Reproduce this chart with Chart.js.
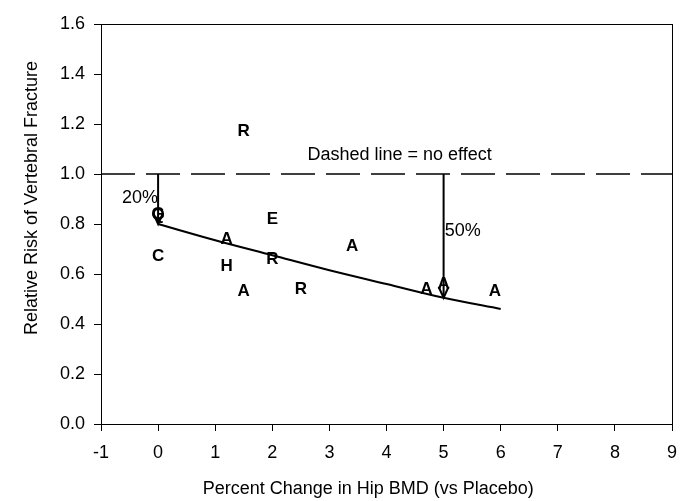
<!DOCTYPE html>
<html lang="en">
<head>
    <meta charset="UTF-8">
    <title>Hip BMD vs Vertebral Fracture Risk</title>
    <script src="https://cdn.jsdelivr.net/npm/chart.js"></script>
    <style>
        body { margin: 0; background: #fff; }
    </style>
</head>
<body>
    <canvas id="bmdChart" width="681" height="501"></canvas>
    <script>
        // Trial letters (drug codes)
        const trialLabels = ['R', 'G', 'Q', 'C', 'A', 'E', 'H', 'R', 'A', 'R', 'A', 'A', 'A', 'A'];
        const trialBmd    = [1.5, 0.0, 0.0, 0.0, 1.2, 2.0, 1.2, 2.0, 1.5, 2.5, 3.4, 4.7, 5.0, 5.9];
        const trialRisk   = [1.17, 0.84, 0.835, 0.67, 0.74, 0.82, 0.63, 0.66, 0.53, 0.54, 0.71, 0.54, 0.56, 0.53];

        // Fitted curve
        const curveBmd  = [0, 1, 2, 3, 4, 5, 6];
        const curveRisk = [0.80, 0.735, 0.675, 0.615, 0.56, 0.505, 0.46];

        // Reference line and arrows
        const noEffectRisk = 1.0;
        const arrowBmd = [0, 5];
        const arrowRisk = [0.80, 0.505];

        const xTicks = [-1, 0, 1, 2, 3, 4, 5, 6, 7, 8, 9];
        const yTicks = [0, 0.2, 0.4, 0.6, 0.8, 1.0, 1.2, 1.4, 1.6];

        const xTitle = 'Percent Change in Hip BMD (vs Placebo)';
        const yTitle = 'Relative Risk of Vertebral Fracture';

        const FONT = "'Liberation Sans', Arial, sans-serif";

        // draws letters, arrowheads, notes, axis titles and the box
        const extrasPlugin = {
            id: 'extras',
            afterDatasetsDraw(chart) {
                const ctx = chart.ctx;
                const xs = chart.scales.x, ys = chart.scales.y;
                ctx.save();
                ctx.strokeStyle = '#000';
                ctx.fillStyle = '#000';

                // arrowheads
                chart.data.datasets.forEach((ds, i) => {
                    if (!ds.arrow) return;
                    const pts = chart.getDatasetMeta(i).data;
                    const tip = pts[pts.length - 1];
                    ctx.lineWidth = 2;
                    ctx.beginPath();
                    ctx.moveTo(tip.x - 5, tip.y - 11);
                    ctx.lineTo(tip.x, tip.y);
                    ctx.lineTo(tip.x + 5, tip.y - 11);
                    ctx.stroke();
                });

                // letters
                const meta = chart.getDatasetMeta(0);
                ctx.font = 'bold 17px ' + FONT;
                ctx.textAlign = 'center';
                ctx.textBaseline = 'middle';
                meta.data.forEach((p, i) => {
                    ctx.fillText(trialLabels[i], p.x, p.y);
                });

                // notes
                ctx.font = '18px ' + FONT;
                ctx.textAlign = 'center';
                ctx.fillText('Dashed line = no effect', xs.getPixelForValue(4.23), ys.getPixelForValue(1.075));
                ctx.textAlign = 'right';
                ctx.fillText('20%', xs.getPixelForValue(0.0), ys.getPixelForValue(0.905));
                ctx.textAlign = 'left';
                ctx.fillText('50%', xs.getPixelForValue(5.02), ys.getPixelForValue(0.77));

                // axis titles (Excel places them a bit off the plot centre)
                const a = chart.chartArea;
                ctx.textAlign = 'center';
                ctx.fillText(xTitle, a.left + (a.right - a.left) * 0.468, 489);
                ctx.save();
                ctx.translate(32, a.top + (a.bottom - a.top) * 0.435);
                ctx.rotate(-Math.PI / 2);
                ctx.fillText(yTitle, 0, 0);
                ctx.restore();

                // frame
                ctx.lineWidth = 1;
                ctx.strokeRect(a.left + 0.5, a.top + 0.5, a.right - a.left, a.bottom - a.top);
                ctx.restore();
            }
        };

        const datasets = [
            {
                data: trialBmd.map((x, i) => ({ x: x, y: trialRisk[i] })),
                pointRadius: 0,
                showLine: false
            },
            {
                data: curveBmd.map((x, i) => ({ x: x, y: curveRisk[i] })),
                showLine: true,
                borderColor: '#000',
                borderWidth: 2,
                pointRadius: 0,
                cubicInterpolationMode: 'monotone'
            },
            {
                data: [{ x: -1, y: noEffectRisk }, { x: 9, y: noEffectRisk }],
                showLine: true,
                borderColor: '#000',
                borderWidth: 1.5,
                borderDash: [34, 11],
                pointRadius: 0
            }
        ];
        arrowBmd.forEach((x, i) => {
            datasets.push({
                data: [{ x: x, y: noEffectRisk }, { x: x, y: arrowRisk[i] }],
                showLine: true,
                borderColor: '#000',
                borderWidth: 2,
                pointRadius: 0,
                arrow: true
            });
        });

        new Chart(document.getElementById('bmdChart'), {
            type: 'scatter',
            data: { datasets: datasets },
            options: {
                responsive: false,
                animation: false,
                layout: { padding: { top: 24, right: 9, left: 0, bottom: 0 } },
                plugins: { legend: { display: false }, tooltip: { enabled: false } },
                scales: {
                    x: {
                        type: 'linear',
                        min: -1, max: 9,
                        afterBuildTicks: s => { s.ticks = xTicks.map(v => ({ value: v })); },
                        afterFit: s => { s.height = 77; s.paddingLeft = 0; s.paddingRight = 0; },
                        grid: { drawOnChartArea: false, color: '#000', tickLength: 7 },
                        border: { color: '#000', width: 1 },
                        ticks: { color: '#000', font: { family: FONT, size: 18 }, padding: 11, maxRotation: 0 }
                    },
                    y: {
                        min: 0, max: 1.6,
                        afterBuildTicks: s => { s.ticks = yTicks.map(v => ({ value: v })); },
                        afterFit: s => { s.width = 101; s.paddingTop = 0; s.paddingBottom = 0; },
                        grid: { drawOnChartArea: false, color: '#000', tickLength: 7 },
                        border: { color: '#000', width: 1 },
                        ticks: {
                            color: '#000',
                            font: { family: FONT, size: 18 },
                            padding: 9,
                            callback: v => v.toFixed(1)
                        }
                    }
                }
            },
            plugins: [extrasPlugin]
        });
    </script>
</body>
</html>
